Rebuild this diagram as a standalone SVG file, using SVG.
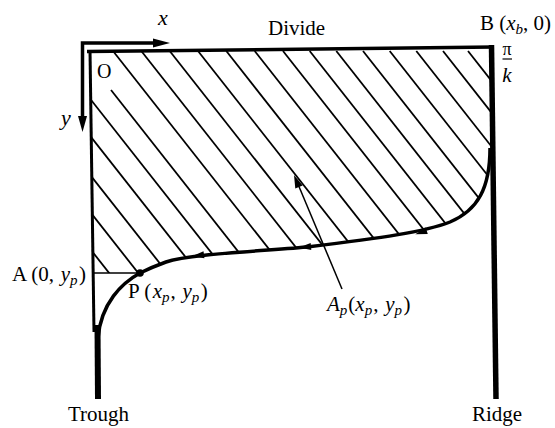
<svg xmlns="http://www.w3.org/2000/svg" width="555" height="428" viewBox="0 0 555 428">
<style>
  text { font-family: 'Liberation Serif', 'Times New Roman', serif; font-size: 21px; fill: #000; }
  .i { font-style: italic; }
  .sub { font-size: 15px; font-style: italic; }
  .big { font-size: 22px; }
  .pi { font-size: 18px; }
  .o { font-size: 20px; }
  .hatch line { stroke: #000; stroke-width: 1.8; }
  .bold { fill: none; stroke: #000; stroke-linecap: butt; }
</style>
<defs>
  <clipPath id="region">
    <path d="M91,51 L491,47 L490,148 C490,188 478,210 450,222 C425,232 380,238 307,247 C250,252 190,254 166,262 C155,266 148,269 140,273 L92,273 Z"/>
  </clipPath>
  <polygon id="flowHead" points="-6,0 6,-3.5 6,3.5" fill="#000"/>
</defs>

<rect width="555" height="428" fill="#fff"/>

<g id="hatch" class="hatch" clip-path="url(#region)">
  <line x1="-65.7" y1="51" x2="249.3" y2="451"/>
  <line x1="-36.6" y1="51" x2="278.4" y2="451"/>
  <line x1="-7.4" y1="51" x2="307.6" y2="451"/>
  <line x1="23.3" y1="51" x2="338.3" y2="451"/>
  <line x1="52.5" y1="51" x2="367.5" y2="451"/>
  <line x1="111" y1="90" x2="418" y2="480"/>
  <line x1="113" y1="51" x2="428" y2="451"/>
  <line x1="141.3" y1="51" x2="456.3" y2="451"/>
  <line x1="169.7" y1="51" x2="484.7" y2="451"/>
  <line x1="198" y1="51" x2="513" y2="451"/>
  <line x1="226.3" y1="51" x2="541.3" y2="451"/>
  <line x1="254.7" y1="51" x2="569.7" y2="451"/>
  <line x1="283" y1="51" x2="598" y2="451"/>
  <line x1="309.7" y1="51" x2="624.7" y2="451"/>
  <line x1="336.3" y1="51" x2="651.3" y2="451"/>
  <line x1="363" y1="51" x2="678" y2="451"/>
  <line x1="389.7" y1="51" x2="704.7" y2="451"/>
  <line x1="416.3" y1="51" x2="731.3" y2="451"/>
  <line x1="443" y1="51" x2="758" y2="451"/>
  <line x1="468" y1="51" x2="783" y2="451"/>
</g>

<g id="axes">
  <path class="bold" d="M82.5,118 L82.5,43 L156,43" stroke-width="3.5" stroke-linejoin="miter"/>
  <polygon points="170,43 153,38.5 153,47.5" fill="#000"/>
  <polygon points="82.5,132 78,116 87,116" fill="#000"/>
</g>

<g id="frame">
  <line x1="87" y1="51.5" x2="494" y2="47" stroke="#000" stroke-width="3.5"/>
  <line x1="90" y1="50" x2="94" y2="332" stroke="#000" stroke-width="3"/>
  <line x1="491.5" y1="45" x2="496" y2="399" stroke="#000" stroke-width="5.5"/>
  <line x1="93" y1="273" x2="140" y2="273" stroke="#000" stroke-width="1.6"/>
</g>

<g id="streamline">
  <path class="bold" stroke-width="3.5" d="M490,148 C490,188 478,210 450,222 C425,232 380,238 307,247 C250,252 190,254 166,262 C155,266 148,269 140,273 C122,283 101,303 98,338"/>
  <line x1="97.5" y1="325" x2="98" y2="399" stroke="#000" stroke-width="6"/>
  <use href="#flowHead" transform="translate(421,232.5) rotate(-17)"/>
  <use href="#flowHead" transform="translate(305,247) rotate(-5)"/>
  <use href="#flowHead" transform="translate(198,255.5) rotate(-7)"/>
  <circle cx="140" cy="273" r="3.8" fill="#000"/>
</g>

<g id="pointer">
  <line x1="342" y1="289" x2="297.5" y2="183" stroke="#000" stroke-width="1.5"/>
  <polygon points="294,175 302.7,185.4 295.3,188.6" fill="#000"/>
</g>

<g id="labels">
  <text class="i big" x="158" y="25">x</text>
  <text x="268" y="35">Divide</text>
  <text x="480" y="30">B (<tspan class="i">x</tspan><tspan class="sub" dy="4">b</tspan><tspan dy="-4">, 0)</tspan></text>
  <text class="pi" x="507" y="55" text-anchor="middle">π</text>
  <line x1="502.5" y1="59" x2="512" y2="59" stroke="#000" stroke-width="1.2"/>
  <text class="i" x="507" y="81.5" text-anchor="middle">k</text>
  <text class="o" x="97" y="78">O</text>
  <text class="i big" x="61" y="125">y</text>
  <text x="12" y="281">A (0, <tspan class="i" dx="1.5">y</tspan><tspan class="sub" dy="4">p</tspan><tspan dy="-4" dx="1.5">)</tspan></text>
  <text x="128" y="298">P (<tspan class="i" dx="1.5">x</tspan><tspan class="sub" dy="4">p</tspan><tspan dy="-4" dx="1">, </tspan><tspan class="i" dx="1.5">y</tspan><tspan class="sub" dy="4">p</tspan><tspan dy="-4" dx="1.5">)</tspan></text>
  <text x="327" y="311"><tspan class="i">A</tspan><tspan class="sub" dy="4">p</tspan><tspan dy="-4" dx="1">(</tspan><tspan class="i">x</tspan><tspan class="sub" dy="4">p</tspan><tspan dy="-4" dx="1">, </tspan><tspan class="i" dx="1.5">y</tspan><tspan class="sub" dy="4">p</tspan><tspan dy="-4" dx="1.5">)</tspan></text>
  <text x="68" y="421">Trough</text>
  <text x="472" y="421">Ridge</text>
</g>
</svg>
